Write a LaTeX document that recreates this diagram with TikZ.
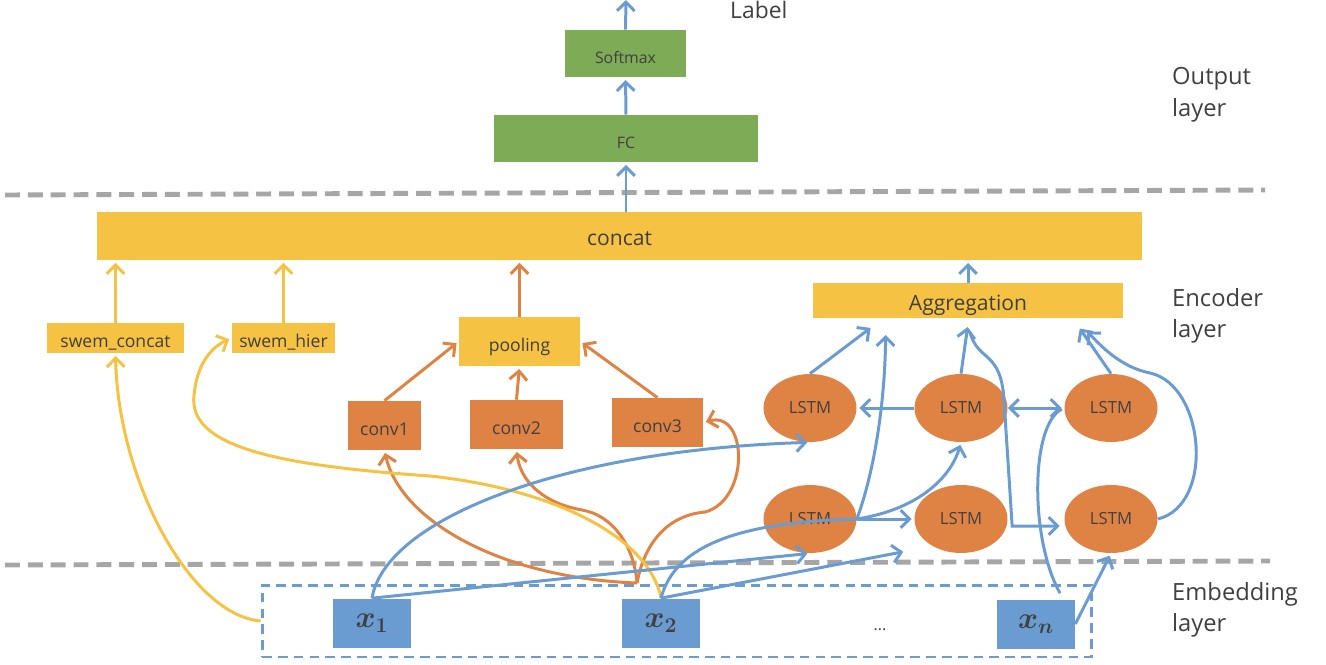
\documentclass[tikz,border=0pt]{standalone}
\usepackage{fontspec}
\setmainfont{Open Sans}
\usepackage{tikz}
\usetikzlibrary{shapes.geometric}
\usetikzlibrary{arrows.meta}
\usetikzlibrary{calc}
\definecolor{cgreen}{HTML}{7EAB55}
\definecolor{cyellow}{HTML}{F5C243}
\definecolor{corange}{HTML}{DF8344}
\definecolor{cblue}{HTML}{6A9BD1}
\definecolor{cgray}{HTML}{A6A6A6}
\definecolor{ctext}{HTML}{404040}

\begin{document}
\begin{tikzpicture}[x=0.02cm,y=-0.02cm,>={Straight Barb[length=5pt,width=10pt]},
    blk/.style={fill=#1,text=ctext,inner sep=0pt,text height=11pt,text depth=0pt,font=\fontsize{10}{12}\selectfont},
    cell/.style={ellipse,fill=corange,text=ctext,inner sep=0pt,minimum width=1.86cm,minimum height=1.36cm,font=\fontsize{9.5}{11}\selectfont},
    word/.style={blk=cblue,text height=,text depth=,minimum width=1.56cm,minimum height=0.98cm,font=\fontsize{17}{20}\selectfont\boldmath},
    layer/.style={anchor=west,align=left,text=ctext,font=\fontsize{13.5}{18}\selectfont},
    sep/.style={cgray,line width=2.8pt,dash pattern=on 8.5pt off 4.5pt},
    link/.style={draw=#1,line width=1.7pt,->,shorten >=1.5pt}]
    \useasboundingbox (0,0) rectangle (1326,664);
    \draw[sep] (5,195) -- (1265,190);
    \draw[sep] (5,565) -- (1270,561);
    \node[blk=cgreen,minimum width=2.42cm,minimum height=0.94cm,font=\fontsize{9}{11}\selectfont] (softmax) at (625.5,53.5) {Softmax};
    \node[blk=cgreen,minimum width=5.28cm,minimum height=0.94cm,font=\fontsize{9}{11}\selectfont] (fc) at (626,138.5) {FC};
    \node[blk=cyellow,minimum width=20.9cm,minimum height=0.96cm,font=\fontsize{12}{14}\selectfont] (concat) at (619.5,236) {concat};
    \node[blk=cyellow,minimum width=2.74cm,minimum height=0.6cm] (swemc) at (115.5,338) {swem\_concat};
    \node[blk=cyellow,minimum width=2.06cm,minimum height=0.6cm] (swemh) at (283.5,338) {swem\_hier};
    \node[blk=cyellow,minimum width=2.42cm,minimum height=0.98cm] (pooling) at (519.5,341.5) {pooling};
    \node[blk=cyellow,minimum width=6.2cm,minimum height=0.7cm,font=\fontsize{12}{14}\selectfont] (aggr) at (968,300.5) {Aggregation};
    \node[blk=corange,minimum width=1.46cm,minimum height=0.98cm] (conv1) at (384.5,425.5) {conv1};
    \node[blk=corange,minimum width=1.86cm,minimum height=0.98cm] (conv2) at (516.5,424.5) {conv2};
    \node[blk=corange,minimum width=1.82cm,minimum height=0.98cm] (conv3) at (657.5,422.5) {conv3};
    \foreach \n/\x in {1/810,2/961,3/1111} {
      \node[cell] (t\n) at (\x,408) {LSTM};
      \node[cell] (b\n) at (\x,519) {LSTM};
    }
    \node[draw=cblue,line width=1.7pt,dash pattern=on 5.5pt off 3.5pt,minimum width=16.6cm,minimum height=1.44cm] (emb) at (677,621) {};
    \node[word] (x1) at (372,623) {$x_1$};
    \node[word] (x2) at (661,623) {$x_2$};
    \node[word] (xn) at (1036,624) {$x_n$};
    \node[text=ctext,font=\fontsize{9}{11}\selectfont] (dots) at (880,630) {...};
    \node[text=ctext,font=\fontsize{13}{15}\selectfont,anchor=west] (label) at (724,10) {Label};
    \node[layer] (outl) at (1166,95) {Output\\layer};
    \node[layer] (encl) at (1166,316) {Encoder\\layer};
    \node[layer] (embl) at (1166,610) {Embedding\\layer};
    \coordinate (top) at (626,0);
    \coordinate (hub) at (637,583);
    \draw[link=cblue,shorten >=0pt] (softmax.north) -- (top);
    \draw[link=cblue] (fc.north) -- (softmax.south);
    \draw[link=cblue] (concat.north -| fc) -- (fc.south);
    \draw[link=cyellow] (swemc.north) -- (swemc.north |- concat.south);
    \draw[link=cyellow] (swemh.north) -- (swemh.north |- concat.south);
    \draw[link=corange] (pooling.north) -- (pooling.north |- concat.south);
    \draw[link=cblue] (aggr.north) -- (aggr.north |- concat.south);
    \draw[link=corange] (conv1.north) -- (pooling.west);
    \draw[link=corange] (conv2.north) -- (pooling.south);
    \draw[link=corange] (conv3.north) -- (pooling.east);
    \draw[link=corange] (hub) .. controls (500,578) and (400,520) .. (conv1.south);
    \draw[link=corange] (hub) .. controls (634,545) and (612,515) .. (582,510) .. controls (542,503) and (520,480) .. (conv2.south);
    \draw[link=corange] (hub) .. controls (645,540) and (670,515) .. (705,512) .. controls (750,500) and (748,410) .. (conv3.east);
    \draw[link=cyellow] (emb.west) .. controls (190,615) and (118,480) .. (swemc.south);
    \draw[link=cyellow] (x2.north) .. controls (650,540) and (560,490) .. (430,476) .. controls (270,465) and (188,445) .. (194,395) .. controls (197,365) and (210,348) .. (swemh.west);
    \draw[link=cblue] (x1.north) .. controls (385,520) and (560,450) .. (t1.south);
    \draw[link=cblue] (x1.north) -- (b1.south);
    \draw[link=cblue] (x2.north) .. controls (675,545) and (740,522) .. (b1.east) .. controls (915,510) and (950,480) .. (t2.south);
    \draw[link=cblue] (x2.north) -- ($(b2.south west)+(-22,8)$);
    \draw[link=cblue] (b1.east) -- (b2.west);
    \draw[link=cblue] (b1.east) .. controls (875,470) and (885,400) .. ($(aggr.south west)+(73,14)$);
    \draw[link=cblue] (t1.north) -- ($(aggr.south west)+(60,8)$);
    \draw[link=cblue] (t2.west) -- (t1.east);
    \draw[link=cblue] (t2.north) -- ($(aggr.south)+(0,6)$);
    \draw[link=cblue] ($(aggr.south)+(2,14)$) .. controls (978,362) and (1001,350) .. (1004,400) -- ($(b3.west)+(-52,7)$) -- ($(b3.west)+(-2,7)$);
    \draw[link=cblue,<->] (t2.east) -- (t3.west);
    \draw[link=cblue,-] ($(xn.north)+(24,-6)$) .. controls (1030,540) and (1030,425) .. (t3.west);
    \draw[link=cblue] (xn.east) -- (b3.south);
    \draw[link=cblue] (t3.north) -- ($(aggr.south east)+(-45,8)$);
    \draw[link=cblue] (b3.east) .. controls (1215,505) and (1205,385) .. (1150,373) .. controls (1120,367) and (1100,345) .. ($(aggr.south east)+(-38,11)$);
\end{tikzpicture}
\end{document}
